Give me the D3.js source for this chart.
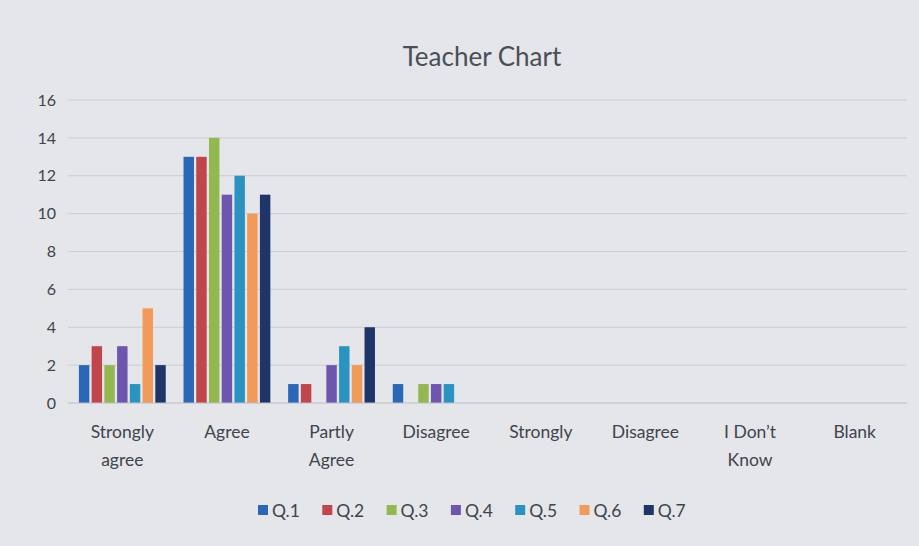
<!DOCTYPE html>
<html>
<head>
<meta charset="utf-8">
<script src="https://cdn.jsdelivr.net/npm/d3@7"></script>
<style>
	html, body { margin: 0; padding: 0; background: #e3e5e9; }
	svg { display: block; font-family: Lato, "Liberation Sans", sans-serif; }
</style>
</head>
<body>
<script>
// chart data
const categories = ["Strongly agree", "Agree", "Partly Agree", "Disagree", "Strongly", "Disagree ", "I Don\u2019t Know", "Blank"];
const seriesNames = ["Q.1", "Q.2", "Q.3", "Q.4", "Q.5", "Q.6", "Q.7"];
const q1 = [2, 13, 1, 1, 0, 0, 0, 0];
const q2 = [3, 13, 1, 0, 0, 0, 0, 0];
const q3 = [2, 14, 0, 1, 0, 0, 0, 0];
const q4 = [3, 11, 2, 1, 0, 0, 0, 0];
const q5 = [1, 12, 3, 1, 0, 0, 0, 0];
const q6 = [5, 10, 2, 0, 0, 0, 0, 0];
const q7 = [2, 11, 4, 0, 0, 0, 0, 0];
const yTicks = [0, 2, 4, 6, 8, 10, 12, 14, 16];
const colors = ["#2b67b8", "#c0464b", "#93b84f", "#6e55ad", "#2b93c2", "#f29a5a", "#1f3468"];

const seriesValues = [q1, q2, q3, q4, q5, q6, q7];

const W = 919, H = 546;
const margin = { top: 100, right: 12, bottom: 143, left: 70 };

const svg = d3.select("body").append("svg")
	.attr("width", W)
	.attr("height", H);

// soft photo-like background
svg.append("rect")
	.attr("width", W).attr("height", H)
	.attr("fill", "#e4e6ea");

const x0 = d3.scaleBand()
	.domain(categories)
	.range([margin.left, W - margin.right])
	.paddingInner(0.17)
	.paddingOuter(0.085);

const x1 = d3.scaleBand()
	.domain(seriesNames)
	.range([0, x0.bandwidth()])
	.paddingInner(0.18);

const y = d3.scaleLinear()
	.domain([0, 16])
	.range([H - margin.bottom, margin.top]);

// gridlines
svg.append("g")
	.selectAll("line")
	.data(yTicks.slice(1))
	.join("line")
	.attr("x1", margin.left - 2)
	.attr("x2", W - margin.right)
	.attr("y1", d => y(d))
	.attr("y2", d => y(d))
	.attr("stroke", "#c9ccd2")
	.attr("stroke-width", 1);

// y axis labels
const yAxis = d3.axisLeft(y).tickValues(yTicks).tickSize(0).tickPadding(14);
svg.append("g")
	.attr("transform", `translate(${margin.left},0)`)
	.call(yAxis)
	.call(g => g.select(".domain").remove())
	.selectAll("text")
	.attr("font-size", 16)
	.attr("font-family", "Lato, sans-serif")
	.attr("fill", "#40444d");

// bars
const groups = svg.append("g")
	.selectAll("g")
	.data(categories)
	.join("g")
	.attr("transform", d => `translate(${x0(d)},0)`);

groups.selectAll("rect")
	.data((d, i) => seriesNames.map((s, j) => ({ s, v: seriesValues[j][i], c: colors[j] })))
	.join("rect")
	.attr("x", d => x1(d.s))
	.attr("width", x1.bandwidth())
	.attr("y", d => y(d.v))
	.attr("height", d => y(0) - y(d.v))
	.attr("fill", d => d.c);

// baseline
svg.append("line")
	.attr("x1", margin.left - 2)
	.attr("x2", W - margin.right)
	.attr("y1", y(0))
	.attr("y2", y(0))
	.attr("stroke", "#b9bcc3");

// category labels (wrapped to two lines like the original)
const xAxis = d3.axisBottom(x0).tickSize(0).tickPadding(23);
svg.append("g")
	.attr("transform", `translate(0,${y(0)})`)
	.call(xAxis)
	.call(g => g.select(".domain").remove())
	.selectAll("text")
	.attr("font-size", 17.5)
	.attr("font-family", "Lato, sans-serif")
	.attr("fill", "#40444d")
	.each(function(d) {
		const words = d.trim().split(" ");
		const text = d3.select(this).text(null);
		let lines;
		if (words.length === 3) lines = [words[0] + " " + words[1], words[2]];
		else lines = words;
		lines.forEach((w, i) => {
			text.append("tspan")
				.attr("x", 0)
				.attr("dy", i === 0 ? "0.71em" : "1.55em")
				.text(w);
		});
	});

// title
svg.append("text")
	.attr("x", 482)
	.attr("y", 66)
	.attr("text-anchor", "middle")
	.attr("font-size", 26)
	.attr("fill", "#4a4e57")
	.text("Teacher Chart");

// legend
const legend = svg.append("g")
	.attr("transform", "translate(258,511)");

const item = legend.selectAll("g")
	.data(seriesNames)
	.join("g")
	.attr("transform", (d, i) => `translate(${i * 64.3},0)`);

item.append("rect")
	.attr("x", 0)
	.attr("y", -6)
	.attr("width", 10)
	.attr("height", 10)
	.attr("fill", (d, i) => colors[i]);

item.append("text")
	.attr("x", 14)
	.attr("y", 0)
	.attr("dy", "0.35em")
	.attr("font-size", 17.5)
	.attr("fill", "#40444d")
	.text(d => d);
</script>
</body>
</html>
